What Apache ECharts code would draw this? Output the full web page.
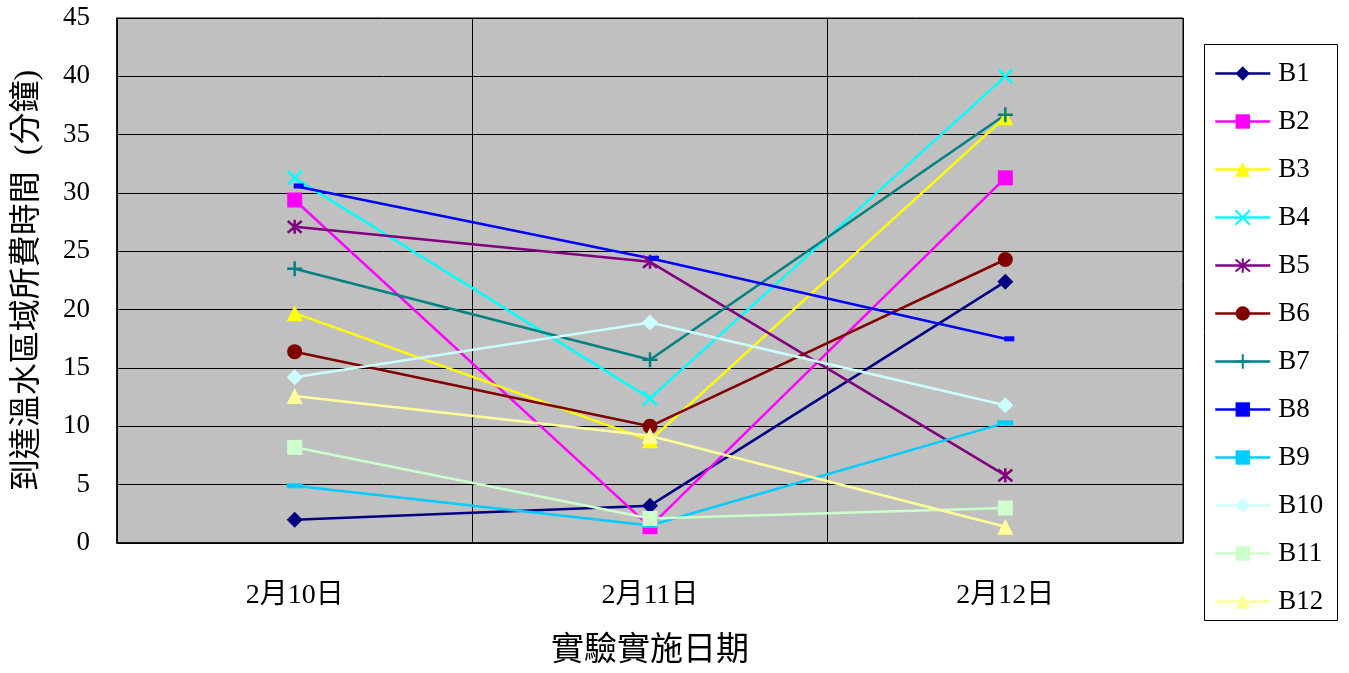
<!DOCTYPE html>
<html>
<head>
<meta charset="utf-8">
<script src="https://cdn.jsdelivr.net/npm/echarts@6/dist/echarts.min.js"></script>
<style>
  html, body { margin: 0; padding: 0; background: #fff; }
  #chart { width: 1349px; height: 673px; }
</style>
</head>
<body>
<div id="chart"></div>
<script>
// Experiment dates (x categories)
const dates = ['2月10日', '2月11日', '2月12日'];

// Minutes needed to reach the warm-water zone, per subject
const B1  = [2.0, 3.2, 22.4];
const B2  = [29.4, 1.4, 31.3];
const B3  = [19.7, 8.8, 36.5];
const B4  = [31.3, 12.4, 40.0];
const B5  = [27.1, 24.1, 5.8];
const B6  = [16.4, 10.0, 24.3];
const B7  = [23.5, 15.7, 36.7];
const B8  = [30.6, 24.4, 17.5];
const B9  = [4.9, 1.5, 10.3];
const B10 = [14.2, 18.9, 11.8];
const B11 = [8.2, 2.1, 3.0];
const B12 = [12.6, 9.2, 1.4];

const yTicks = { min: 0, max: 45, step: 5 };

// Marker paths for the stroked (line-only) symbols
const X_PATH    = 'path://M0,0L10,10M10,0L0,10';
const PLUS_PATH = 'path://M5,0L5,10M0,5L10,5';
const STAR_PATH = 'path://M0,0L10,10M10,0L0,10M5,-1L5,11';

const seriesDefs = [
  { name: 'B1',  data: B1,  color: '#000080', symbol: 'diamond',  size: 16 },
  { name: 'B2',  data: B2,  color: '#FF00FF', symbol: 'rect',     size: 15 },
  { name: 'B3',  data: B3,  color: '#FFFF00', symbol: 'triangle', size: 16 },
  { name: 'B4',  data: B4,  color: '#00FFFF', symbol: X_PATH,     size: 14, stroke: true },
  { name: 'B5',  data: B5,  color: '#800080', symbol: STAR_PATH,  size: 14, stroke: true },
  { name: 'B6',  data: B6,  color: '#800000', symbol: 'circle',   size: 15 },
  { name: 'B7',  data: B7,  color: '#008080', symbol: PLUS_PATH,  size: 15, stroke: true },
  { name: 'B8',  data: B8,  color: '#0000FF', symbol: 'rect',     size: [10, 5], offset: [4, 0] },
  { name: 'B9',  data: B9,  color: '#00CCFF', symbol: 'rect',     size: [16, 5] },
  { name: 'B10', data: B10, color: '#CCFFFF', symbol: 'diamond',  size: 16 },
  { name: 'B11', data: B11, color: '#CCFFCC', symbol: 'rect',     size: 15 },
  { name: 'B12', data: B12, color: '#FFFF99', symbol: 'triangle', size: 16 }
];

const serif = '"Liberation Serif", "Times New Roman", "Noto Sans CJK TC", serif';

const series = seriesDefs.map(d => ({
  name: d.name,
  type: 'line',
  data: d.data,
  color: d.color,
  symbol: d.symbol,
  symbolSize: d.size,
  symbolOffset: d.offset || [0, 0],
  showSymbol: true,
  animation: false,
  lineStyle: { width: 2.5, color: d.color },
  itemStyle: d.stroke
    ? { color: d.color, borderColor: d.color, borderWidth: 2.5 }
    : { color: d.color, borderWidth: 0 },
  emphasis: { disabled: true }
}));

const chart = echarts.init(document.getElementById('chart'), null, { renderer: 'canvas' });

chart.setOption({
  backgroundColor: '#ffffff',
  animation: false,
  grid: {
    left: 117, right: 166, top: 18, bottom: 128,
    show: true, backgroundColor: '#C0C0C0', borderColor: '#000', borderWidth: 1
  },
  legend: {
    orient: 'vertical',
    left: 1214, top: 60,
    padding: 0,
    itemWidth: 55, itemHeight: 18, itemGap: 21,
    lineStyle: { width: 2.5 },
    textStyle: { fontFamily: serif, fontSize: 27, color: '#000', padding: [0, 0, 0, 3] },
    data: seriesDefs.map(d => d.name)
  },
  graphic: [{
    type: 'rect',
    shape: { x: 1204.5, y: 44.5, width: 133, height: 576 },
    style: { fill: 'none', stroke: '#000', lineWidth: 1 },
    silent: true
  }],
  xAxis: {
    type: 'category',
    data: dates,
    boundaryGap: true,
    name: '實驗實施日期',
    nameLocation: 'middle',
    nameGap: 92,
    nameTextStyle: { fontFamily: serif, fontSize: 33, color: '#000' },
    axisLine: { lineStyle: { color: '#000', width: 1.5 } },
    axisTick: { show: false },
    axisLabel: { fontFamily: serif, fontSize: 28, color: '#000', margin: 39 },
    splitLine: { show: true, lineStyle: { color: '#000', width: 1 } }
  },
  yAxis: {
    type: 'value',
    min: yTicks.min, max: yTicks.max, interval: yTicks.step,
    name: '到達溫水區域所費時間  (分鐘)',
    nameLocation: 'middle',
    nameGap: 73,
    nameTextStyle: { fontFamily: serif, fontSize: 32, color: '#000' },
    axisLine: { show: true, lineStyle: { color: '#000', width: 1.5 } },
    axisTick: { show: false },
    axisLabel: { fontFamily: serif, fontSize: 27, color: '#000', margin: 27 },
    splitLine: { show: true, lineStyle: { color: '#000', width: 1 } }
  },
  series: series
});
</script>
</body>
</html>
